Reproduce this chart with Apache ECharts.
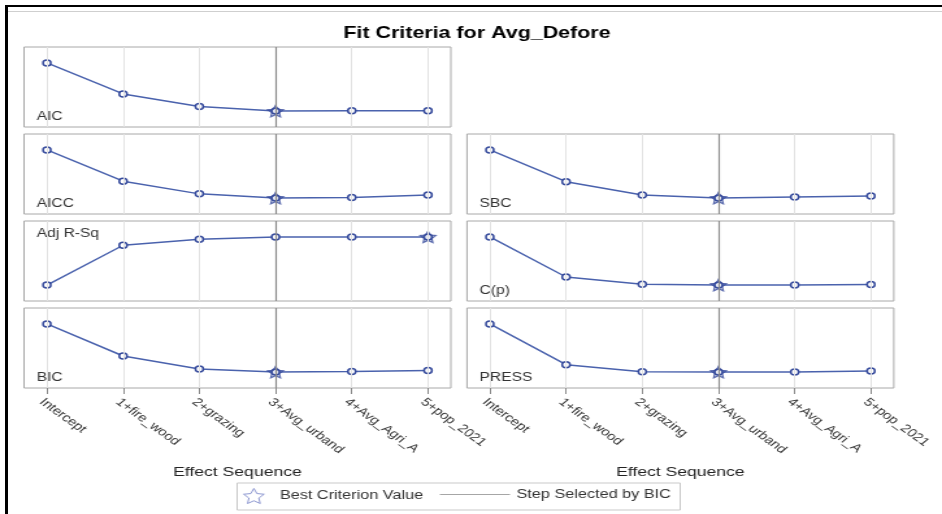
<!DOCTYPE html>
<html>
<head>
<meta charset="utf-8">
<title>Fit Criteria for Avg_Defore</title>
<script src="https://cdn.jsdelivr.net/npm/echarts@6/dist/echarts.min.js"></script>
<style>
  html, body { margin: 0; padding: 0; background: #fff; }
  #page { position: absolute; left: 0; top: 0; width: 942px; height: 514px; overflow: hidden; background: #fff; }
  /* the plot is laid out on a narrower canvas and widened to the page */
  #chart { position: absolute; left: 0; top: 0; width: 725px; height: 514px; transform: scaleX(1.29931); transform-origin: 0 0; }
  .edge { position: absolute; background: #000; z-index: 5; }
  .rule { position: absolute; background: #cfcfcf; z-index: 5; }
</style>
</head>
<body>
<div id="page">
  <div id="chart"></div>
  <div class="edge" style="left:5px; top:5px; width:3px; height:509px;"></div>
  <div class="edge" style="left:5px; top:5px; width:937px; height:2px;"></div>
  <div class="rule" style="left:8px; top:11px; width:934px; height:1px;"></div>
</div>
<script>
// Effect sequence (x axis)
const categories = ['Intercept', '1+fire_wood', '2+grazing', '3+Avg_urband', '4+Avg_Agri_A', '5+pop_2021'];

// Criterion values at each step
const aic    = [312.45, 280.31, 267.14, 262.48, 262.71, 262.93];
const aicc   = [312.62, 280.65, 267.72, 263.40, 264.05, 266.48];
const adjRSq = [0.0000, 0.4625, 0.5312, 0.5580, 0.5586, 0.5594];
const bic    = [314.80, 283.40, 270.62, 267.68, 268.35, 269.30];
const sbc    = [314.93, 284.27, 271.42, 268.45, 269.47, 270.42];
const cp     = [126.8, 24.8, 6.1, 4.2, 4.5, 6.0];
const press  = [1822.4, 797.4, 618.5, 612.4, 615.9, 637.4];

const FONT = '"Liberation Sans", Arial, Helvetica, sans-serif';
const BLUE_LINE = '#4a62ad';
const BLUE_MARK = '#34499b';
const STEP_GREY = '#8c8c8c';
const STAR = 'path://M50,0 L64.11,30.58 L97.55,34.55 L72.83,57.42 L79.39,90.45 L50,74 L20.61,90.45 L27.17,57.42 L2.45,34.55 L35.89,30.58 Z';

// panel layout (canvas units before widening)
const colLeft = [18.5, 359.4];
const colWidth = 328.5;
const rowTop = [47, 134, 221, 308];
const rowH = 80;

const panels = [
  { label: 'AIC',      values: aic,    col: 0, row: 0, best: 'min', labelAt: 'bottom' },
  { label: 'AICC',     values: aicc,   col: 0, row: 1, best: 'min', labelAt: 'bottom' },
  { label: 'Adj R-Sq', values: adjRSq, col: 0, row: 2, best: 'max', labelAt: 'top' },
  { label: 'BIC',      values: bic,    col: 0, row: 3, best: 'min', labelAt: 'bottom' },
  { label: 'SBC',      values: sbc,    col: 1, row: 1, best: 'min', labelAt: 'bottom' },
  { label: 'C(p)',     values: cp,     col: 1, row: 2, best: 'min', labelAt: 'bottom' },
  { label: 'PRESS',    values: press,  col: 1, row: 3, best: 'min', labelAt: 'bottom' }
];

const steps = categories.map((c, i) => i);

function argBest(arr, mode) {
  let k = 0;
  for (let i = 1; i < arr.length; i++) {
    if (mode === 'max' ? arr[i] > arr[k] : arr[i] < arr[k]) k = i;
  }
  return k;
}

// step chosen by the BIC criterion
const selectedStep = argBest(bic, 'min');

const grids = [], xAxes = [], yAxes = [], series = [], texts = [];

panels.forEach((p, i) => {
  const bottomRow = p.row === 3;
  const lo = Math.min(...p.values), hi = Math.max(...p.values);
  const pad = (hi - lo) * 0.33;

  grids.push({
    left: colLeft[p.col], top: rowTop[p.row], width: colWidth, height: rowH,
    show: true, borderColor: '#a8a8a8', borderWidth: 1, backgroundColor: 'rgba(0,0,0,0)',
    containLabel: false, outerBoundsMode: 'none'
  });

  xAxes.push({
    type: 'value', gridIndex: i, min: -0.3, max: 5.3,
    axisLine: { show: false },
    splitLine: { show: false },
    axisTick: { show: bottomRow, length: 6, lineStyle: { color: '#8a8a8a' }, customValues: steps },
    axisLabel: {
      show: bottomRow, customValues: steps,
      formatter: v => categories[Math.round(v)],
      rotate: -43, align: 'left', verticalAlign: 'top', margin: 8,
      fontSize: 11.5, color: '#333', fontFamily: FONT
    },
    name: bottomRow ? 'Effect Sequence' : '',
    nameLocation: 'middle', nameGap: 77, nameMoveOverlap: false,
    nameTextStyle: { fontSize: 13.5, color: '#222', fontFamily: FONT }
  });

  yAxes.push({ type: 'value', gridIndex: i, show: false, min: lo - pad, max: hi + pad });

  // light vertical reference lines at each step
  series.push({
    type: 'line', name: 'step grid', xAxisIndex: i, yAxisIndex: i, data: [], z: 0, silent: true,
    markLine: {
      silent: true, symbol: ['none', 'none'], label: { show: false }, animation: false,
      emphasis: { disabled: true },
      lineStyle: { color: '#e2e2e2', width: 1, type: 'solid' },
      data: steps.map(k => ({ xAxis: k }))
    }
  });

  // step selected by BIC
  series.push({
    type: 'line', name: 'Step Selected by BIC', xAxisIndex: i, yAxisIndex: i, data: [], z: 1,
    symbol: 'none', silent: true,
    lineStyle: { color: STEP_GREY, width: 1 },
    markLine: {
      silent: true, symbol: ['none', 'none'], label: { show: false }, animation: false,
      emphasis: { disabled: true },
      lineStyle: { color: STEP_GREY, width: 1.2, type: 'solid' },
      data: [{ xAxis: selectedStep }]
    }
  });

  // criterion profile
  series.push({
    type: 'line', name: p.label, xAxisIndex: i, yAxisIndex: i, z: 2, silent: true,
    data: p.values.map((v, k) => [k, v]),
    symbol: 'circle', symbolSize: 6, showSymbol: true,
    lineStyle: { color: BLUE_LINE, width: 1.5 },
    itemStyle: { color: '#ffffff', borderColor: BLUE_MARK, borderWidth: 1.5 }
  });

  // best value of this criterion
  const b = argBest(p.values, p.best);
  series.push({
    type: 'scatter', name: 'Best Criterion Value', xAxisIndex: i, yAxisIndex: i, z: 3, silent: true,
    data: [[b, p.values[b]]],
    symbol: STAR, symbolSize: 12, symbolKeepAspect: true,
    itemStyle: { color: 'rgba(70,90,170,0.15)', borderColor: BLUE_MARK, borderWidth: 1.2 }
  });

  // panel caption
  const x = colLeft[p.col] + 9.7;
  const y = p.labelAt === 'top' ? rowTop[p.row] + 12.5 : rowTop[p.row] + rowH - 10;
  texts.push({
    type: 'text', x: x, y: y, silent: true,
    style: { text: p.label, fill: '#333', font: '12px ' + FONT, verticalAlign: 'middle', align: 'left' }
  });
});

texts.push({
  type: 'text', x: 367.1, y: 33, silent: true,
  style: { text: 'Fit Criteria for Avg_Defore', fill: '#000', font: 'bold 16.5px ' + FONT, align: 'center', verticalAlign: 'middle' }
});

// legend frame
texts.push({
  type: 'rect', silent: true,
  shape: { x: 182.5, y: 483, width: 341, height: 27 },
  style: { fill: 'none', stroke: '#c9c9c9', lineWidth: 1 }
});

const chart = echarts.init(document.getElementById('chart'));
chart.setOption({
  animation: false,
  color: [BLUE_LINE],
  textStyle: { fontFamily: FONT },
  grid: grids,
  xAxis: xAxes,
  yAxis: yAxes,
  series: series,
  legend: [
    {
      left: 187, top: 488, padding: 0, itemWidth: 30, itemHeight: 15, selectedMode: false,
      textStyle: { fontSize: 12.5, color: '#333', fontFamily: FONT },
      data: [{ name: 'Best Criterion Value', itemStyle: { color: 'rgba(255,255,255,0)', borderColor: '#7380c6', borderWidth: 1 } }]
    },
    {
      left: 338, top: 488, padding: 0, itemWidth: 54, itemHeight: 15, selectedMode: false,
      textStyle: { fontSize: 12.5, color: '#333', fontFamily: FONT },
      data: [{
        name: 'Step Selected by BIC',
        itemStyle: { opacity: 0 },
        lineStyle: { color: '#a6a6a6', width: 1 }
      }]
    }
  ],
  graphic: texts
});
</script>
</body>
</html>
